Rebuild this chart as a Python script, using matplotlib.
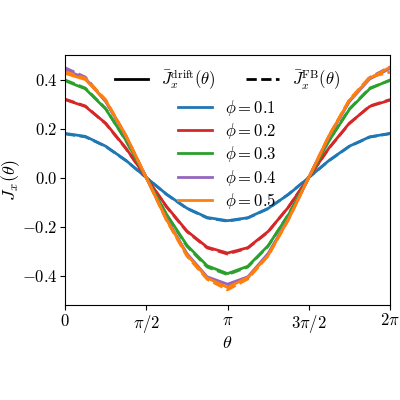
import numpy as np
import matplotlib
matplotlib.use("Agg")
import matplotlib.pyplot as plt
from matplotlib.lines import Line2D

plt.rcParams['font.family'] = 'serif'
plt.rcParams['font.serif'] = ['cmr10', 'DejaVu Serif']
plt.rcParams['mathtext.fontset'] = 'cm'
plt.rcParams['axes.formatter.use_mathtext'] = True

theta_frac = [0, 1/16, 2/16, 3/16, 4/16, 5/16, 6/16, 7/16, 8/16, 9/16, 10/16, 11/16, 12/16, 13/16, 14/16, 15/16, 1]
phis = ["0.1", "0.2", "0.3", "0.4", "0.5"]
colors = ["#1f77b4", "#d62728", "#2ca02c", "#9467bd", "#ff7f0e"]
drift = [
    [0.180, 0.168, 0.128, 0.070, 0.000, -0.068, -0.125, -0.163, -0.176, -0.164, -0.126, -0.069, 0.000, 0.070, 0.128, 0.166, 0.180],
    [0.318, 0.290, 0.222, 0.120, 0.000, -0.118, -0.218, -0.284, -0.308, -0.286, -0.220, -0.121, 0.000, 0.121, 0.222, 0.290, 0.316],
    [0.395, 0.362, 0.280, 0.152, 0.000, -0.150, -0.276, -0.360, -0.392, -0.362, -0.278, -0.152, 0.000, 0.150, 0.278, 0.362, 0.398],
    [0.440, 0.405, 0.310, 0.170, 0.000, -0.168, -0.310, -0.405, -0.435, -0.405, -0.310, -0.168, 0.000, 0.168, 0.310, 0.402, 0.445],
    [0.425, 0.400, 0.315, 0.172, 0.000, -0.172, -0.315, -0.410, -0.448, -0.408, -0.318, -0.170, 0.000, 0.170, 0.315, 0.405, 0.450],
]
fb = [
    [0.178, 0.166, 0.127, 0.069, 0.000, -0.069, -0.126, -0.165, -0.178, -0.165, -0.127, -0.068, 0.000, 0.069, 0.127, 0.165, 0.179],
    [0.320, 0.292, 0.220, 0.118, 0.000, -0.120, -0.220, -0.287, -0.312, -0.288, -0.222, -0.120, 0.000, 0.120, 0.220, 0.292, 0.318],
    [0.398, 0.365, 0.282, 0.150, 0.000, -0.152, -0.280, -0.365, -0.396, -0.365, -0.280, -0.150, 0.000, 0.152, 0.280, 0.365, 0.396],
    [0.448, 0.410, 0.312, 0.168, 0.000, -0.170, -0.312, -0.410, -0.442, -0.410, -0.312, -0.170, 0.000, 0.170, 0.312, 0.408, 0.452],
    [0.432, 0.405, 0.318, 0.170, 0.000, -0.175, -0.320, -0.415, -0.458, -0.414, -0.320, -0.172, 0.000, 0.172, 0.318, 0.410, 0.430],
]

theta = np.array(theta_frac) * 2 * np.pi

fig = plt.figure(figsize=(4, 4), dpi=100)
ax = fig.add_axes([0.1625, 0.2375, 0.8125, 0.625])
for p, c, d, f in zip(phis, colors, drift, fb):
    ax.plot(theta, d, color=c, lw=2, label=rf"$\phi = {p}$")
    ax.plot(theta, f, color=c, lw=2, ls='--')

ax.set_xlim(0, 2 * np.pi)
ax.set_ylim(-0.52, 0.5)
ax.set_xticks([0, np.pi / 2, np.pi, 3 * np.pi / 2, 2 * np.pi])
ax.set_xticklabels(["$0$", r"$\pi/2$", r"$\pi$", r"$3\pi/2$", r"$2\pi$"])
ax.set_yticks([-0.4, -0.2, 0.0, 0.2, 0.4])
ax.set_yticklabels(["$-0.4$", "$-0.2$", "$0.0$", "$0.2$", "$0.4$"])
ax.tick_params(labelsize=12, pad=2)
ax.set_xlabel(r"$\theta$", fontsize=13, labelpad=0)
ax.set_ylabel(r"$\bar{J}_x(\theta)$", fontsize=13)
ax.yaxis.set_label_coords(-0.13, 0.5)

h1 = [Line2D([], [], color='k', lw=2), Line2D([], [], color='k', lw=2, ls='--')]
leg1 = ax.legend(h1, [r"$\bar{J}_x^{\mathrm{drift}}(\theta)$", r"$\bar{J}_x^{\mathrm{FB}}(\theta)$"],
                 ncol=2, frameon=False, loc='upper center', bbox_to_anchor=(0.5, 1.01), fontsize=12,
                 columnspacing=1.8)
ax.add_artist(leg1)
ax.legend(frameon=False, loc='upper center', bbox_to_anchor=(0.5, 0.89), fontsize=12,
          handlelength=2.0, labelspacing=0.2)

fig.savefig("out.png", dpi=100)
